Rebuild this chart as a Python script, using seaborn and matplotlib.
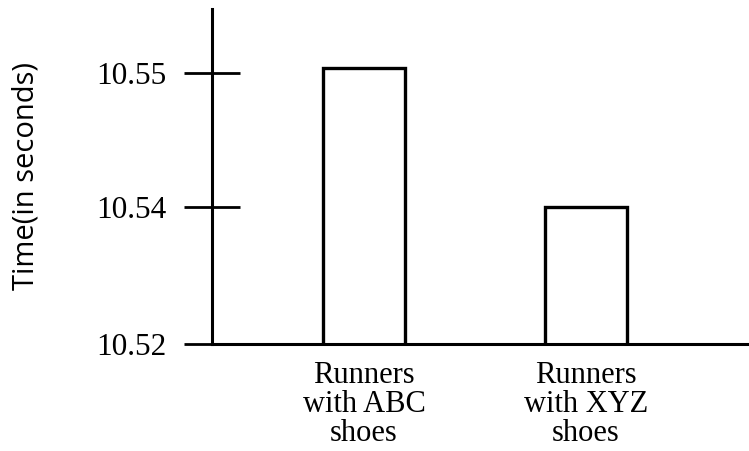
import numpy as np
import matplotlib
matplotlib.use("Agg")
import matplotlib.pyplot as plt
import seaborn as sns
import pandas as pd

# Data
categories = ["Runners\nwith ABC\nshoes", "Runners\nwith XYZ\nshoes"]
times = [10.5504, 10.54]
tick_values = [10.52, 10.54, 10.55]
tick_labels = ["10.52", "10.54", "10.55"]
y_label = "Time(in seconds)"

df = pd.DataFrame({"group": categories, "time": times})

sns.set_style("white")
plt.rcParams["font.family"] = ["Liberation Serif", "DejaVu Serif"]
plt.rcParams["text.color"] = "black"
plt.rcParams["axes.labelcolor"] = "black"
plt.rcParams["xtick.color"] = "black"
plt.rcParams["ytick.color"] = "black"

fig = plt.figure(figsize=(7.49, 4.51), dpi=100)
ax = fig.add_axes([0.283, 0.2373, 0.717, 0.7427])

sns.barplot(data=df, x="group", y="time", ax=ax, color="white",
            edgecolor="black", linewidth=2.4, width=0.37, saturation=1)

# Misleading, non-uniform axis: equal spacing between the listed ticks
anchor_v = np.array(tick_values)
anchor_p = np.array([0.0, 137.0, 271.0])


def fwd(v):
    v = np.asarray(v, dtype=float)
    low = (v - anchor_v[0]) / (anchor_v[1] - anchor_v[0]) * (anchor_p[1] - anchor_p[0]) + anchor_p[0]
    high = (v - anchor_v[1]) / (anchor_v[2] - anchor_v[1]) * (anchor_p[2] - anchor_p[1]) + anchor_p[1]
    return np.where(v <= anchor_v[1], low, high)


def inv(p):
    p = np.asarray(p, dtype=float)
    low = (p - anchor_p[0]) / (anchor_p[1] - anchor_p[0]) * (anchor_v[1] - anchor_v[0]) + anchor_v[0]
    high = (p - anchor_p[1]) / (anchor_p[2] - anchor_p[1]) * (anchor_v[2] - anchor_v[1]) + anchor_v[1]
    return np.where(p <= anchor_p[1], low, high)


ax.set_yscale("function", functions=(fwd, inv))
ax.set_ylim(10.52, 10.5548)
ax.set_xlim(-0.685, 1.734)
ax.set_yticks(tick_values)
ax.set_yticklabels(tick_labels)
ax.yaxis.set_minor_locator(matplotlib.ticker.NullLocator())

for s in ["top", "right"]:
    ax.spines[s].set_visible(False)
for s in ["left", "bottom"]:
    ax.spines[s].set_linewidth(2.2)
    ax.spines[s].set_color("black")

ax.tick_params(axis="y", direction="inout", length=40, width=2.0,
               color="black", labelcolor="black", labelsize=22.5, pad=13,
               left=True)
ax.tick_params(axis="x", length=0, labelsize=22, pad=12, labelcolor="black")
for lab in ax.get_xticklabels():
    lab.set_linespacing(1.0)
for lab in ax.get_yticklabels():
    lab.set_verticalalignment("center_baseline")

ax.set_xlabel("")
ax.set_ylabel(y_label, family=["Open Sans", "DejaVu Sans"], fontsize=21,
              labelpad=40, color="black")

fig.savefig("out.png", dpi=100, facecolor="white")
